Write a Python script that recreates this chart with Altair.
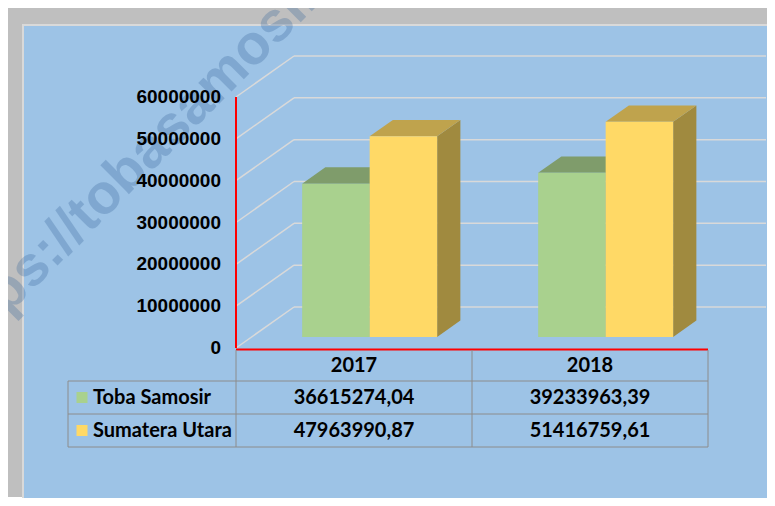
import altair as alt
import pandas as pd

# ---------------- data ----------------
CATEGORIES = ["2017", "2018"]
SERIES = ["Toba Samosir", "Sumatera Utara"]
TOBA_SAMOSIR = [36615274.04, 39233963.39]
SUMATERA_UTARA = [47963990.87, 51416759.61]
TICKS = [0, 10000000, 20000000, 30000000, 40000000, 50000000, 60000000]
WATERMARK = "https://tobasamosirkab.go.id"

# ---------------- style ----------------
FRONT = ["#A9D18E", "#FFD966"]
TOP = ["#7F9C6B", "#BFA34D"]
SIDE = ["#6B8358", "#A08A3F"]
BLUE = "#9DC3E6"
GRAY = "#BFBFBF"
GRID = "#D9D9D9"
TABLE_LINE = "#8C8C8C"

W, H = 759, 490
X0_PX, Y0_PX = 228, 340          # pixel of (u=0, v=0)
PX_PER_U = 236.0                 # one category = 236 px
PX_PER_V = 251.0 / 60e6          # px per value unit

U_DOMAIN = [-X0_PX / PX_PER_U, (W - X0_PX) / PX_PER_U]
V_DOMAIN = [-(H - Y0_PX) / PX_PER_V, Y0_PX / PX_PER_V]

DEPTH_U = 58 / PX_PER_U          # oblique depth of the back wall
DEPTH_V = 41 / PX_PER_V
BAR_W = 0.286
BAR_FRONT = 0.27                 # depth fraction of bar front
BAR_DEPTH = 0.40                 # depth fraction of bar thickness

LABEL_U = -15 / PX_PER_U
LEG_LEFT_U = -168 / PX_PER_U
LEG_TEXT_U = -143 / PX_PER_U
LEG_SWATCH_U = -154 / PX_PER_U


def pv(px):
    """value-space position of a pixel offset below the zero line"""
    return -px / PX_PER_V


ROW_EDGES = [2, 33, 66, 99]

xs = alt.Scale(domain=U_DOMAIN, nice=False, zero=False)
ys = alt.Scale(domain=V_DOMAIN, nice=False, zero=False)


def X(f):
    return alt.X(f, type="quantitative", scale=xs, axis=None, stack=None)


def Y(f):
    return alt.Y(f, type="quantitative", scale=ys, axis=None, stack=None)


# ---------------- 3D bar faces ----------------
values = [TOBA_SAMOSIR, SUMATERA_UTARA]
fronts, sides, tops = [], [], []
du, dv = BAR_DEPTH * DEPTH_U, BAR_DEPTH * DEPTH_V
for i, cat in enumerate(CATEGORIES):
    for s, name in enumerate(SERIES):
        v = values[s][i]
        x0 = i + 0.5 - BAR_W + s * BAR_W + BAR_FRONT * DEPTH_U
        x1 = x0 + BAR_W
        b = BAR_FRONT * DEPTH_V
        t = b + v
        fid = f"{cat}-{s}"
        fronts.append(dict(x=x0, x2=x1, y=b, y2=t, fill=FRONT[s], face=fid))
        sides.append(dict(x=x1, y=b, y2=t, fill=SIDE[s], face=fid))
        sides.append(dict(x=x1 + du, y=b + dv, y2=t + dv, fill=SIDE[s], face=fid))
        tops.append(dict(y=t, x=x0, x2=x1, fill=TOP[s], face=fid))
        tops.append(dict(y=t + dv, x=x0 + du, x2=x1 + du, fill=TOP[s], face=fid))

side_layer = alt.Chart(pd.DataFrame(sides)).mark_area(orient="vertical").encode(
    x=X("x"), y=Y("y"), y2="y2",
    color=alt.Color("fill:N", scale=None), detail="face:N")
top_layer = alt.Chart(pd.DataFrame(tops)).mark_area(orient="horizontal").encode(
    y=Y("y"), x=X("x"), x2="x2",
    color=alt.Color("fill:N", scale=None), detail="face:N")
front_layer = alt.Chart(pd.DataFrame(fronts)).mark_rect().encode(
    x=X("x"), x2="x2", y=Y("y"), y2="y2",
    color=alt.Color("fill:N", scale=None))

# ---------------- grid ----------------
grid = []
ncat = len(CATEGORIES)
for tk in TICKS:
    grid.append(dict(x=0, x2=DEPTH_U, y=tk, y2=tk + DEPTH_V))
    grid.append(dict(x=DEPTH_U, x2=ncat + DEPTH_U, y=tk + DEPTH_V, y2=tk + DEPTH_V))
grid_layer = alt.Chart(pd.DataFrame(grid)).mark_rule(color=GRID, strokeWidth=1.5).encode(
    x=X("x"), x2="x2", y=Y("y"), y2="y2")

axes = pd.DataFrame([
    dict(x=0, x2=0, y=TICKS[0], y2=TICKS[-1]),
    dict(x=0, x2=ncat, y=pv(1.5), y2=pv(1.5)),
])
axis_layer = alt.Chart(axes).mark_rule(color="#FF0000", strokeWidth=2).encode(
    x=X("x"), x2="x2", y=Y("y"), y2="y2")

tick_df = pd.DataFrame(dict(y=TICKS, text=[str(t) for t in TICKS], x=[LABEL_U] * len(TICKS)))
tick_layer = alt.Chart(tick_df).mark_text(
    align="right", baseline="middle", font="Liberation Sans", fontSize=19,
    fontWeight="bold", color="#000000").encode(x=X("x"), y=Y("y"), text="text:N")

# ---------------- data table ----------------
tlines = []
for k in range(ncat + 1):
    tlines.append(dict(x=k, x2=k, y=pv(ROW_EDGES[0]), y2=pv(ROW_EDGES[-1])))
tlines.append(dict(x=LEG_LEFT_U, x2=LEG_LEFT_U, y=pv(ROW_EDGES[1]), y2=pv(ROW_EDGES[-1])))
for e in ROW_EDGES[1:]:
    tlines.append(dict(x=LEG_LEFT_U, x2=ncat, y=pv(e), y2=pv(e)))
table_lines = alt.Chart(pd.DataFrame(tlines)).mark_rule(color=TABLE_LINE, strokeWidth=1).encode(
    x=X("x"), x2="x2", y=Y("y"), y2="y2")

mid = [pv((ROW_EDGES[r] + ROW_EDGES[r + 1]) / 2) for r in range(3)]
ctext = []
for i, cat in enumerate(CATEGORIES):
    ctext.append(dict(x=i + 0.5, y=mid[0], text=cat))
    for s in range(len(SERIES)):
        ctext.append(dict(x=i + 0.5, y=mid[s + 1],
                          text=f"{values[s][i]:.2f}".replace(".", ",")))
center_text = alt.Chart(pd.DataFrame(ctext)).mark_text(
    align="center", baseline="middle", font="Lato", fontSize=20,
    fontWeight="bold", color="#000000").encode(x=X("x"), y=Y("y"), text="text:N")

leg = pd.DataFrame(dict(x=[LEG_TEXT_U] * 2, xs=[LEG_SWATCH_U] * 2,
                        y=mid[1:], text=SERIES, fill=FRONT))
leg_text = alt.Chart(leg).mark_text(
    align="left", baseline="middle", font="Lato", fontSize=20,
    fontWeight="bold", color="#000000").encode(x=X("x"), y=Y("y"), text="text:N")
leg_swatch = alt.Chart(leg).mark_square(size=121, opacity=1, strokeWidth=0).encode(
    x=X("xs"), y=Y("y"), color=alt.Color("fill:N", scale=None))

# ---------------- frame & watermark ----------------
one = pd.DataFrame({"a": [0]})
gray_frame = alt.Chart(one).mark_rect(color=GRAY).encode(
    x=alt.value(0), x2=alt.value(762), y=alt.value(0), y2=alt.value(489))
blue_panel = alt.Chart(one).mark_rect(color=BLUE, stroke=GRID, strokeWidth=2).encode(
    x=alt.value(15), x2=alt.value(W + 4), y=alt.value(17), y2=alt.value(H + 4))
watermark = alt.Chart(pd.DataFrame({"text": [WATERMARK]})).mark_text(
    align="left", baseline="alphabetic", angle=315, font="Liberation Sans",
    fontSize=56, fontWeight="bold", color="#3D6A9E", opacity=0.3).encode(
    x=alt.value(-51), y=alt.value(358), text="text:N")

chart = alt.layer(
    gray_frame, blue_panel, watermark, grid_layer,
    side_layer, top_layer, front_layer,
    axis_layer, tick_layer, table_lines, center_text, leg_swatch, leg_text,
).properties(
    width=W, height=H, padding=0, background="white",
    autosize=alt.AutoSizeParams(type="none"),
).configure_view(stroke=None)

chart.save("out.html", embed_options={"renderer": "svg", "actions": False})
